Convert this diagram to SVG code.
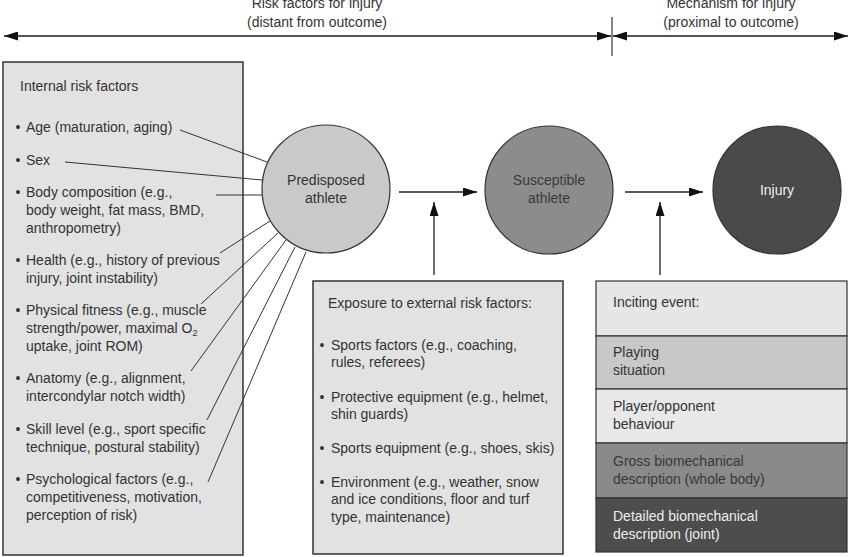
<svg xmlns="http://www.w3.org/2000/svg" width="850" height="557" viewBox="0 0 850 557">
<defs>
<marker id="arr" viewBox="0 0 14 9" refX="14" refY="4.5" markerWidth="14" markerHeight="9" markerUnits="userSpaceOnUse" orient="auto-start-reverse">
<path d="M0,0 L14,4.5 L0,9 z" fill="#111"/>
</marker>
</defs>
<style>
text{font-family:"Liberation Sans",Arial,Helvetica,sans-serif;font-size:14px;fill:#333}
.box{fill:#e2e2e2;stroke:#333;stroke-width:1.5}
.ln{stroke:#333;stroke-width:1;fill:none}
.ar{stroke:#222;stroke-width:1.3;fill:none;marker-end:url(#arr)}
.hd{stroke:#555;stroke-width:1.8;fill:none;marker-start:url(#arr);marker-end:url(#arr)}
.c{text-anchor:middle}
.b{text-anchor:middle}
</style>
<rect width="850" height="557" fill="#fff"/>

<g id="header">
<text class="c" x="317" y="8">Risk factors for injury</text>
<text class="c" x="317" y="27">(distant from outcome)</text>
<text class="c" x="731" y="8">Mechanism for injury</text>
<text class="c" x="731" y="27">(proximal to outcome)</text>
</g>

<g id="internal">
<rect class="box" x="3" y="62" width="240" height="493"/>
<text x="20" y="91">Internal risk factors</text>
<text class="b" x="18" y="132">•</text><text x="26" y="132">Age (maturation, aging)</text>
<text class="b" x="18" y="165">•</text><text x="26" y="165">Sex</text>
<text class="b" x="18" y="197">•</text><text x="26" y="197">Body composition (e.g.,</text>
<text x="26" y="215">body weight, fat mass, BMD,</text>
<text x="26" y="233">anthropometry)</text>
<text class="b" x="18" y="265">•</text><text x="26" y="265">Health (e.g., history of previous</text>
<text x="26" y="283">injury, joint instability)</text>
<text class="b" x="18" y="315">•</text><text x="26" y="315">Physical fitness (e.g., muscle</text>
<text x="26" y="333">strength/power, maximal O<tspan font-size="9" dy="3">2</tspan></text>
<text x="26" y="351">uptake, joint ROM)</text>
<text class="b" x="18" y="383">•</text><text x="26" y="383">Anatomy (e.g., alignment,</text>
<text x="26" y="401">intercondylar notch width)</text>
<text class="b" x="18" y="434">•</text><text x="26" y="434">Skill level (e.g., sport specific</text>
<text x="26" y="452">technique, postural stability)</text>
<text class="b" x="18" y="484">•</text><text x="26" y="484">Psychological factors (e.g.,</text>
<text x="26" y="502">competitiveness, motivation,</text>
<text x="26" y="520">perception of risk)</text>
</g>

<g id="predisposed">
<circle cx="326" cy="189" r="64" fill="#c9c9c9" stroke="#333" stroke-width="1.2"/>
<text class="c" x="326" y="185">Predisposed</text>
<text class="c" x="326" y="203">athlete</text>
</g>

<g id="susceptible">
<circle cx="549" cy="190" r="64" fill="#8c8c8c" stroke="#333" stroke-width="1.2"/>
<text class="c" x="549" y="185" style="fill:#3a3a3a">Susceptible</text>
<text class="c" x="549" y="203" style="fill:#3a3a3a">athlete</text>
</g>

<g id="injury">
<circle cx="777" cy="190" r="64" fill="#4a4a4a" stroke="#333" stroke-width="1.2"/>
<text class="c" x="777" y="195" style="fill:#f0f0f0">Injury</text>
</g>

<g id="external">
<rect class="box" x="313" y="281" width="250" height="273"/>
<text x="328" y="308">Exposure to external risk factors:</text>
<text class="b" x="322" y="350">•</text><text x="331" y="350">Sports factors (e.g., coaching,</text>
<text x="331" y="367">rules, referees)</text>
<text class="b" x="322" y="402">•</text><text x="331" y="402">Protective equipment (e.g., helmet,</text>
<text x="331" y="419">shin guards)</text>
<text class="b" x="322" y="453">•</text><text x="331" y="453">Sports equipment (e.g., shoes, skis)</text>
<text class="b" x="322" y="487">•</text><text x="331" y="487">Environment (e.g., weather, snow</text>
<text x="331" y="504">and ice conditions, floor and turf</text>
<text x="331" y="522">type, maintenance)</text>
</g>

<g id="inciting">
<rect x="596" y="281" width="251" height="55" fill="#e6e6e6" stroke="#333" stroke-width="1.2"/>
<rect x="596" y="336" width="251" height="53" fill="#c8c8c8" stroke="#333" stroke-width="1.2"/>
<rect x="596" y="389" width="251" height="54" fill="#e8e8e8" stroke="#333" stroke-width="1.2"/>
<rect x="596" y="443" width="251" height="55" fill="#8a8a8a" stroke="#333" stroke-width="1.2"/>
<rect x="596" y="498" width="251" height="54" fill="#4d4d4d" stroke="#333" stroke-width="1.2"/>
<text x="613" y="307">Inciting event:</text>
<text x="613" y="357">Playing</text>
<text x="613" y="375">situation</text>
<text x="613" y="411">Player/opponent</text>
<text x="613" y="429">behaviour</text>
<text x="613" y="466" style="fill:#383838">Gross biomechanical</text>
<text x="613" y="484" style="fill:#383838">description (whole body)</text>
<text x="613" y="521" style="fill:#eeeeee">Detailed biomechanical</text>
<text x="613" y="539" style="fill:#eeeeee">description (joint)</text>
</g>

<g id="connectors">
<line class="hd" x1="4" y1="36" x2="611" y2="36"/>
<line class="hd" x1="613" y1="36" x2="848" y2="36"/>
<line x1="612" y1="17" x2="612" y2="56" stroke="#333" stroke-width="1.2"/>
<line class="ln" x1="180" y1="130" x2="267" y2="162"/>
<line class="ln" x1="65" y1="162" x2="262" y2="180"/>
<line class="ln" x1="216" y1="195" x2="262" y2="195"/>
<line class="ln" x1="220" y1="253" x2="270" y2="221"/>
<line class="ln" x1="201" y1="304" x2="278" y2="233"/>
<line class="ln" x1="191" y1="371" x2="286" y2="240"/>
<line class="ln" x1="207" y1="420" x2="295" y2="247"/>
<line class="ln" x1="208" y1="482" x2="306" y2="252"/>
<line class="ar" x1="399" y1="192" x2="477" y2="192"/>
<line class="ar" x1="625" y1="192" x2="703" y2="192"/>
<line class="ar" x1="434" y1="275" x2="434" y2="202"/>
<line class="ar" x1="660" y1="275" x2="660" y2="202"/>
</g>
</svg>
